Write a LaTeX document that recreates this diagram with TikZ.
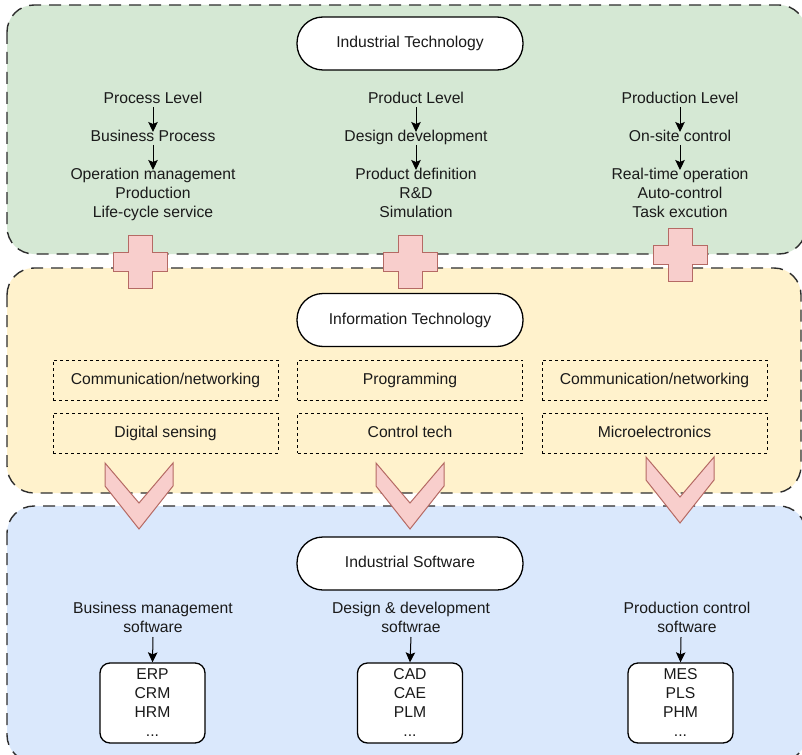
\documentclass[tikz,border=0pt]{standalone}
\usepackage{fontspec}
\setmainfont{Liberation Sans}
\usetikzlibrary{arrows.meta}

\definecolor{itgreen}{HTML}{D5E8D4}
\definecolor{ityellow}{HTML}{FFF2CC}
\definecolor{itblue}{HTML}{DAE8FC}
\definecolor{pinkfill}{HTML}{F8CECC}
\definecolor{pinkline}{HTML}{B56A64}
\definecolor{panelline}{HTML}{2E2E2E}
\definecolor{inktext}{HTML}{1A1A1A}

% plus sign centred at (#1,#2)
\newcommand\pluscross[2]{%
  \draw[badge] (#1-27,#2-9.5) -- (#1-12,#2-9.5) -- (#1-12,#2-26.5) -- (#1+12,#2-26.5)
    -- (#1+12,#2-9.5) -- (#1+27,#2-9.5) -- (#1+27,#2+9.5) -- (#1+12,#2+9.5)
    -- (#1+12,#2+26.5) -- (#1-12,#2+26.5) -- (#1-12,#2+9.5) -- (#1-27,#2+9.5) -- cycle;}
% downward chevron, centre x #1, top edge #2
\newcommand\downchevron[2]{%
  \draw[badge] (#1-34,#2) -- (#1,#2+40) -- (#1+34,#2) -- (#1+34,#2+23)
    -- (#1,#2+66) -- (#1-34,#2+23) -- cycle;}

\begin{document}
\begin{tikzpicture}[x=1pt,y=-1pt,
  every node/.style={font=\fontsize{15.7pt}{19pt}\selectfont, text=inktext},
  panel/.style={draw=panelline, line width=1.4pt, dash pattern=on 12pt off 8pt, rounded corners=27pt},
  pill/.style={draw=black, line width=1.3pt, fill=white, rounded corners=26pt,
    minimum width=226pt, minimum height=53pt, inner sep=0pt, text height=11.5pt, text depth=3.3pt},
  lvl/.style={inner sep=0pt, text height=11.5pt, text depth=3.3pt},
  lines/.style={inner sep=0pt, align=center},
  techbox/.style={draw=black, line width=1pt, dash pattern=on 3pt off 3pt,
    minimum width=225pt, minimum height=40pt, inner sep=0pt, text height=11.5pt, text depth=3.3pt},
  swbox/.style={draw=black, line width=1.3pt, fill=white, rounded corners=10pt,
    minimum width=105pt, minimum height=80pt, align=center, inner sep=0pt},
  arr/.style={-{Stealth[length=10pt,width=9.5pt,inset=2pt]}, line width=1pt, black},
  badge/.style={fill=pinkfill, draw=pinkline, line width=1pt, line join=miter}]

\useasboundingbox (0,0) rectangle (802,754);
\fill[white] (0,0) rectangle (802,754);

% three layers
\draw[panel, fill=itgreen]  (7,5)   rectangle (806,254);
\draw[panel, fill=ityellow] (7,268) rectangle (801,493);
\draw[panel, fill=itblue]   (7,506) rectangle (806,762);

% ---- Industrial Technology ----
\node[pill] (it) at (410,43.5) {Industrial Technology};

\node[lvl] (p1) at (153,99.5) {Process Level};
\node[lvl] (p2) at (153,137.5) {Business Process};
\node[lines, anchor=north] (p3) at (153,168) {Operation management\\Production\\Life-cycle service};

\node[lvl] (d1) at (416,99.5) {Product Level};
\node[lvl] (d2) at (416,137.5) {Design development};
\node[lines, anchor=north] (d3) at (416,168) {Product definition\\R\&D\\Simulation};

\node[lvl] (q1) at (680,99.5) {Production Level};
\node[lvl] (q2) at (680,137.5) {On-site control};
\node[lines, anchor=north] (q3) at (680,168) {Real-time operation\\Auto-control\\Task excution};

\foreach \a/\b/\c in {p1/p2/p3, d1/d2/d3, q1/q2/q3} {
  \draw[arr] ([yshift=-7.5pt]\a.center) -- ([yshift=5.5pt]\b.center);
  \draw[arr] ([yshift=-7.5pt]\b.center) -- ([yshift=-2pt]\c.north);
}

% ---- Information Technology ----
\node[pill] (inf) at (410,320) {Information Technology};

\node[techbox] (t11) at (165.5,380) {Communication/networking};
\node[techbox] (t12) at (165.5,433) {Digital sensing};
\node[techbox] (t21) at (410,380) {Programming};
\node[techbox] (t22) at (410,433) {Control tech};
\node[techbox] (t31) at (654.5,380) {Communication/networking};
\node[techbox] (t32) at (654.5,433) {Microelectronics};

% ---- Industrial Software ----
\node[pill] (sw) at (410,563.5) {Industrial Software};

\node[lines, anchor=south] (s1) at (153,633) {Business management\\software};
\node[lines, anchor=south] (s2) at (411,633) {Design \& development\\softwrae};
\node[lines, anchor=south] (s3) at (687,633) {Production control\\software};

\node[swbox] (b1) at (152.5,703) {ERP\\CRM\\HRM\\...};
\node[swbox] (b2) at (410,703) {CAD\\CAE\\PLM\\...};
\node[swbox] (b3) at (680.5,703) {MES\\PLS\\PHM\\...};

\draw[arr] ([yshift=-4pt]s1.south) -- (b1.north);
\draw[arr] ([yshift=-4pt]s2.south) -- (b2.north);
\draw[arr] ([xshift=-6pt,yshift=-4pt]s3.south) -- (b3.north);

% ---- links between layers ----
\pluscross{140}{261.5}
\pluscross{410}{261.5}
\pluscross{680}{255}

\downchevron{139}{463}
\downchevron{410}{463}
\downchevron{680}{457}

\end{tikzpicture}
\end{document}
